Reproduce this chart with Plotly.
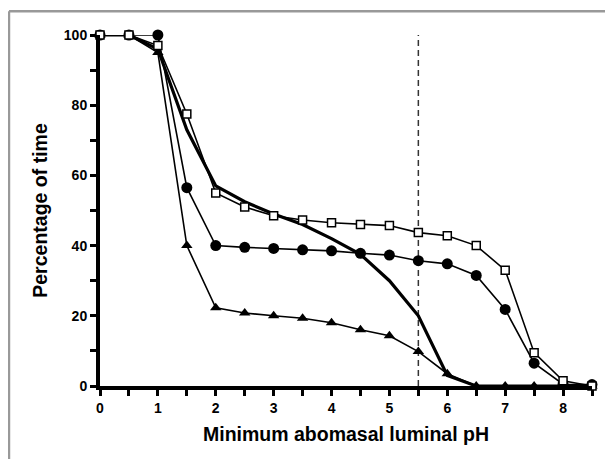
import plotly.graph_objects as go

ph = [0, 0.5, 1, 1.5, 2, 2.5, 3, 3.5, 4, 4.5, 5, 5.5, 6, 6.5, 7, 7.5, 8, 8.5]
open_squares = [100, 100, 97, 77.5, 55, 51, 48.5, 47.3, 46.5, 46, 45.7, 43.7, 42.8, 40, 33, 9.5, 1.5, 0]
filled_circles = [100, 100, 100, 56.5, 40, 39.5, 39.2, 38.8, 38.5, 37.8, 37.3, 35.7, 34.8, 31.5, 21.8, 6.5, 0.5, 0.4]
filled_triangles = [100, 100, 95, 40, 22.3, 20.8, 20, 19.3, 18, 16, 14.3, 9.8, 3.5, 0, 0, 0, 0, 0]
thick_line = [100, 100, 96, 73, 57, 52.5, 49, 46, 42, 37.5, 30, 20, 3, 0, 0, 0, 0, 0]
cutoff_ph = 5.5

x_ticks = [0, 1, 2, 3, 4, 5, 6, 7, 8]
y_ticks = [0, 20, 40, 60, 80, 100]

fig = go.Figure()

fig.add_trace(go.Scatter(x=[cutoff_ph, cutoff_ph], y=[0, 100], mode="lines",
                         line=dict(color="#333333", width=1.5, dash="6px,4px"),
                         hoverinfo="skip", showlegend=False))

fig.add_trace(go.Scatter(x=ph, y=thick_line, mode="lines",
                         line=dict(color="black", width=3.2), showlegend=False,
                         cliponaxis=False))

fig.add_trace(go.Scatter(x=ph, y=filled_triangles, mode="lines+markers",
                         line=dict(color="black", width=1.6),
                         marker=dict(symbol="triangle-up", size=10, color="black"),
                         showlegend=False, cliponaxis=False))

fig.add_trace(go.Scatter(x=ph, y=filled_circles, mode="lines+markers",
                         line=dict(color="black", width=1.6),
                         marker=dict(symbol="circle", size=11, color="black"),
                         showlegend=False, cliponaxis=False))

fig.add_trace(go.Scatter(x=ph, y=open_squares, mode="lines+markers",
                         line=dict(color="black", width=1.6),
                         marker=dict(symbol="square", size=8, color="white",
                                     line=dict(color="black", width=1.5)),
                         showlegend=False, cliponaxis=False))

font_family = "Liberation Sans, Arial, sans-serif"

fig.update_layout(
    width=605, height=451,
    margin=dict(l=92, r=21, t=27, b=73),
    paper_bgcolor="white", plot_bgcolor="white",
    font=dict(family=font_family, color="black"),
    xaxis=dict(
        range=[0, 8.5], tickvals=x_ticks, ticktext=[str(v) for v in x_ticks],
        showline=True, linecolor="black", linewidth=4,
        ticks="outside", ticklen=6, tickwidth=3, tickcolor="black",
        minor=dict(dtick=0.5, tick0=0, ticks="outside", ticklen=6, tickwidth=3, tickcolor="black"),
        showgrid=False, zeroline=False, automargin=False,
        tickfont=dict(size=14, family=font_family, weight="bold"),
        title=dict(text="<b>Minimum abomasal luminal pH</b>", font=dict(size=19.5), standoff=14),
    ),
    yaxis=dict(
        range=[0, 100], tickvals=y_ticks, ticktext=[str(v) for v in y_ticks],
        showline=True, linecolor="black", linewidth=4,
        ticks="outside", ticklen=6, tickwidth=3, tickcolor="black",
        minor=dict(dtick=10, tick0=0, ticks="outside", ticklen=6, tickwidth=3, tickcolor="black"),
        showgrid=False, zeroline=False, automargin=False,
        tickfont=dict(size=14, family=font_family, weight="bold"),
        title=dict(text="<b>Percentage of time</b>", font=dict(size=19.5), standoff=12),
    ),
    shapes=[
        dict(type="line", xref="paper", yref="paper", x0=-0.185, x1=-0.185, y0=-0.24, y1=1.068,
             line=dict(color="#999999", width=2.5)),
        dict(type="line", xref="paper", yref="paper", x0=-0.185, x1=1.05, y0=1.068, y1=1.068,
             line=dict(color="#999999", width=2.5)),
    ],
)

fig.write_html("out.html")
